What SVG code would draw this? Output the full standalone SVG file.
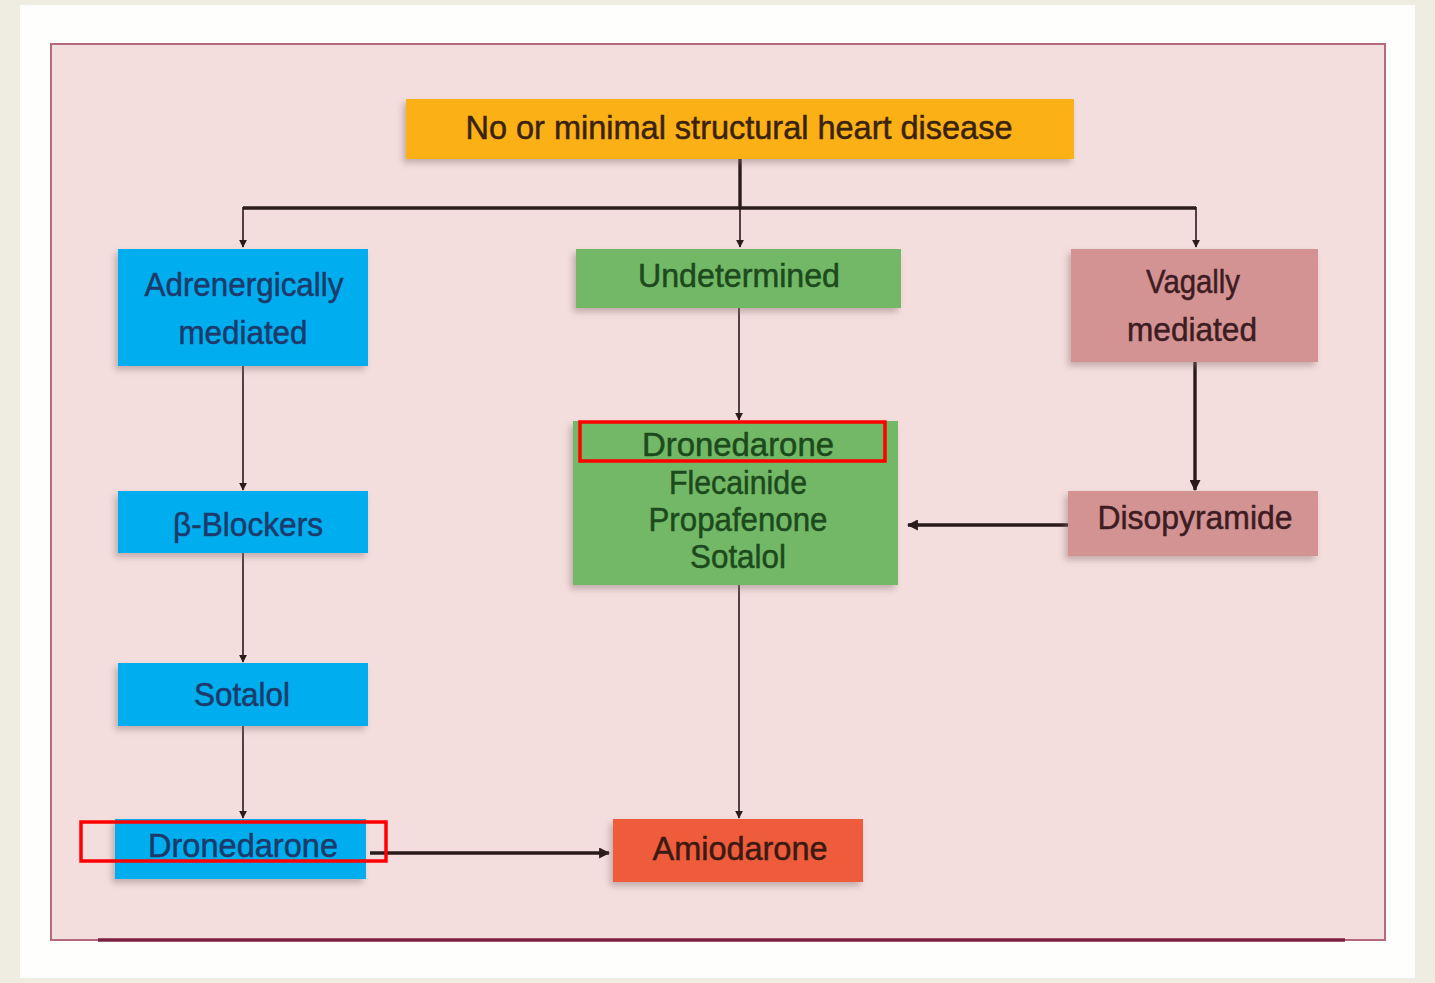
<svg xmlns="http://www.w3.org/2000/svg" width="1435" height="983" viewBox="0 0 1435 983">
<style>
.t{font-family:"Liberation Sans",Arial,sans-serif;font-size:33px;text-anchor:middle;stroke-width:0.5;}
.blue{fill:#00aeef;}
.tb{fill:#1d3a6a;stroke:#1d3a6a;}
.green{fill:#72b866;}
.tg{fill:#1c4a1c;stroke:#1c4a1c;}
.pink{fill:#d49393;}
.tp{fill:#3d1c22;stroke:#3d1c22;}
.thin{stroke:#2a1a1a;stroke-width:1.6;fill:none;}
.thick{stroke:#2a1a1a;stroke-width:3.4;fill:none;}
.hl{fill:none;stroke:#ff0000;stroke-width:3.5;}
</style>
<defs>
<filter id="sh" x="-10%" y="-20%" width="125%" height="150%">
<feDropShadow dx="-3" dy="4" stdDeviation="3" flood-color="#8a7070" flood-opacity="0.45"/>
</filter>
<marker id="ah" viewBox="0 0 10 10" refX="9" refY="5" markerWidth="8" markerHeight="8" markerUnits="userSpaceOnUse" orient="auto">
<path d="M0,0 L10,5 L0,10 z" fill="#2a1a1a"/>
</marker>
<marker id="ahb" viewBox="0 0 10 10" refX="9" refY="5" markerWidth="11" markerHeight="11" markerUnits="userSpaceOnUse" orient="auto">
<path d="M0,0 L10,5 L0,10 z" fill="#2a1a1a"/>
</marker>
</defs>
<rect x="0" y="0" width="1435" height="983" fill="#efece2"/>
<rect x="20" y="5" width="1395" height="973" fill="#fefefc"/>
<rect x="51" y="44" width="1334" height="896" fill="#f3dedd" stroke="#b46a7a" stroke-width="2"/>
<line x1="98" y1="940" x2="1345" y2="940" stroke="#7a2040" stroke-width="3.5"/>

<g id="connectors">
<line class="thick" x1="740" y1="159" x2="740" y2="208"/>
<line class="thin" x1="740" y1="208" x2="740" y2="247" marker-end="url(#ah)"/>
<line class="thick" x1="243" y1="208" x2="1196" y2="208"/>
<line class="thin" x1="243" y1="207" x2="243" y2="247" marker-end="url(#ah)"/>
<line class="thin" x1="1196" y1="207" x2="1196" y2="247" marker-end="url(#ah)"/>
<line class="thin" x1="243" y1="366" x2="243" y2="490" marker-end="url(#ah)"/>
<line class="thin" x1="243" y1="553" x2="243" y2="662" marker-end="url(#ah)"/>
<line class="thin" x1="243" y1="726" x2="243" y2="818" marker-end="url(#ah)"/>
<line class="thin" x1="739" y1="308" x2="739" y2="420" marker-end="url(#ah)"/>
<line class="thick" x1="1195" y1="362" x2="1195" y2="490" marker-end="url(#ahb)"/>
<line class="thick" x1="1068" y1="525" x2="908" y2="525" marker-end="url(#ahb)"/>
<line class="thin" x1="739" y1="585" x2="739" y2="818" marker-end="url(#ah)"/>
<line class="thick" x1="370" y1="853" x2="609" y2="853" marker-end="url(#ahb)"/>
</g>

<g id="top">
<rect x="406" y="99" width="668" height="60" fill="#fbb016" filter="url(#sh)"/>
<text class="t" x="739" y="139" fill="#3a2210" stroke="#3a2210" font-size="35" textLength="547" lengthAdjust="spacingAndGlyphs">No or minimal structural heart disease</text>
</g>

<g id="adrenergic">
<rect class="blue" x="118" y="249" width="250" height="117" filter="url(#sh)"/>
<text class="t tb" x="244" y="296" textLength="199" lengthAdjust="spacingAndGlyphs">Adrenergically</text>
<text class="t tb" x="243" y="344" textLength="129" lengthAdjust="spacingAndGlyphs">mediated</text>
</g>

<g id="undetermined">
<rect class="green" x="576" y="249" width="325" height="59" filter="url(#sh)"/>
<text class="t tg" x="739" y="287" textLength="202" lengthAdjust="spacingAndGlyphs">Undetermined</text>
</g>

<g id="vagal">
<rect class="pink" x="1071" y="249" width="247" height="113" filter="url(#sh)"/>
<text class="t tp" x="1193" y="293" textLength="94" lengthAdjust="spacingAndGlyphs">Vagally</text>
<text class="t tp" x="1192" y="341" textLength="130" lengthAdjust="spacingAndGlyphs">mediated</text>
</g>

<g id="bblockers">
<rect class="blue" x="118" y="491" width="250" height="62" filter="url(#sh)"/>
<text class="t tb" x="248" y="536" textLength="150" lengthAdjust="spacingAndGlyphs">β-Blockers</text>
</g>

<g id="sotalol">
<rect class="blue" x="118" y="663" width="250" height="63" filter="url(#sh)"/>
<text class="t tb" x="242" y="706" textLength="96" lengthAdjust="spacingAndGlyphs">Sotalol</text>
</g>

<g id="dronedarone-left">
<rect class="blue" x="115" y="819" width="251" height="60" filter="url(#sh)"/>
<text class="t tb" x="243" y="857" textLength="190" lengthAdjust="spacingAndGlyphs">Dronedarone</text>
</g>

<g id="drugs">
<rect class="green" x="573" y="421" width="325" height="164" filter="url(#sh)"/>
<text class="t tg" x="738" y="456" textLength="192" lengthAdjust="spacingAndGlyphs">Dronedarone</text>
<text class="t tg" x="738" y="494" textLength="138" lengthAdjust="spacingAndGlyphs">Flecainide</text>
<text class="t tg" x="738" y="531" textLength="179" lengthAdjust="spacingAndGlyphs">Propafenone</text>
<text class="t tg" x="738" y="568" textLength="96" lengthAdjust="spacingAndGlyphs">Sotalol</text>
</g>

<g id="disopyramide">
<rect class="pink" x="1068" y="491" width="250" height="65" filter="url(#sh)"/>
<text class="t tp" x="1195" y="529" textLength="195" lengthAdjust="spacingAndGlyphs">Disopyramide</text>
</g>

<g id="amiodarone">
<rect x="613" y="819" width="250" height="63" fill="#ee5b3b" filter="url(#sh)"/>
<text class="t" x="740" y="860" fill="#3a1a12" stroke="#3a1a12" textLength="175" lengthAdjust="spacingAndGlyphs">Amiodarone</text>
</g>

<g id="highlights">
<rect class="hl" x="81" y="822" width="305" height="39"/>
<rect class="hl" x="580" y="422" width="305" height="39"/>
</g>
</svg>
